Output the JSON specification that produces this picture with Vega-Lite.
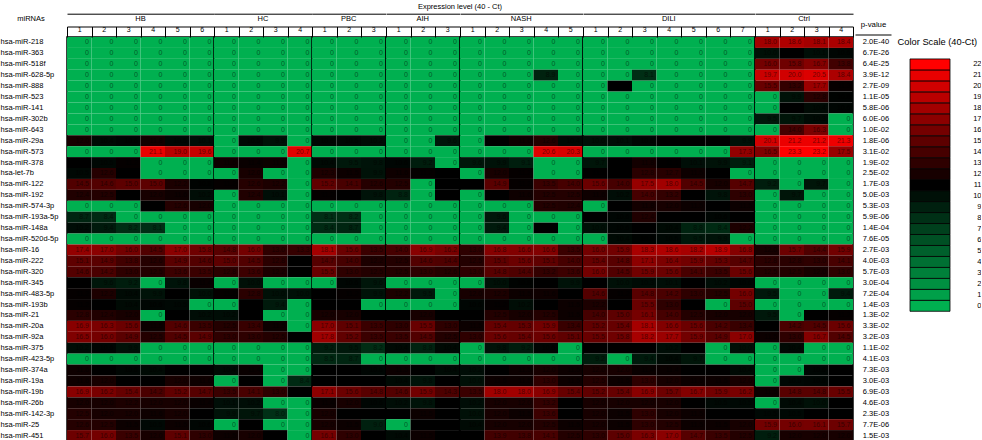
{
"$schema": "https://vega.github.io/schema/vega-lite/v6.json",
"background": "white",
"padding": {"left": 0, "top": 2, "right": 0, "bottom": 0},
"spacing": 0,
"config": {"font": "Liberation Sans", "view": {"stroke": null}, "axis": {"labelColor": "#000", "titleColor": "#000", "grid": false}},
"datasets": {
"pv": [
{"m":"hsa-miR-218","p":"2.0E-40"},{"m":"hsa-miR-363","p":"6.7E-26"},{"m":"hsa-miR-518f","p":"6.4E-25"},{"m":"hsa-miR-628-5p","p":"3.9E-12"},{"m":"hsa-miR-888","p":"2.7E-09"},{"m":"hsa-miR-523","p":"1.1E-05"},{"m":"hsa-miR-141","p":"5.8E-06"},{"m":"hsa-miR-302b","p":"6.0E-06"},{"m":"hsa-miR-643","p":"1.0E-02"},{"m":"hsa-miR-29a","p":"1.8E-06"},{"m":"hsa-miR-573","p":"3.1E-02"},{"m":"hsa-miR-378","p":"1.9E-02"},{"m":"hsa-let-7b","p":"2.5E-02"},{"m":"hsa-miR-122","p":"1.7E-03"},{"m":"hsa-miR-192","p":"5.0E-03"},{"m":"hsa-miR-574-3p","p":"5.3E-03"},{"m":"hsa-miR-193a-5p","p":"5.9E-06"},{"m":"hsa-miR-148a","p":"1.4E-04"},{"m":"hsa-miR-520d-5p","p":"7.6E-05"},{"m":"hsa-miR-16","p":"2.7E-03"},{"m":"hsa-miR-222","p":"4.0E-03"},{"m":"hsa-miR-320","p":"5.7E-03"},{"m":"hsa-miR-345","p":"3.0E-04"},{"m":"hsa-miR-483-5p","p":"7.2E-04"},{"m":"hsa-miR-193b","p":"1.4E-03"},{"m":"hsa-miR-21","p":"1.3E-02"},{"m":"hsa-miR-20a","p":"3.3E-02"},{"m":"hsa-miR-92a","p":"3.2E-03"},{"m":"hsa-miR-375","p":"1.1E-02"},{"m":"hsa-miR-423-5p","p":"4.1E-03"},{"m":"hsa-miR-374a","p":"7.3E-03"},{"m":"hsa-miR-19a","p":"3.0E-03"},{"m":"hsa-miR-19b","p":"6.9E-03"},{"m":"hsa-miR-26b","p":"4.6E-03"},{"m":"hsa-miR-142-3p","p":"2.3E-03"},{"m":"hsa-miR-25","p":"7.7E-06"},{"m":"hsa-miR-451","p":"1.5E-03"}
],
"cs": [{"s":0},{"s":1},{"s":2},{"s":3},{"s":4},{"s":5},{"s":6},{"s":7},{"s":8},{"s":9},{"s":10},{"s":11},{"s":12},{"s":13},{"s":14},{"s":15},{"s":16},{"s":17},{"s":18},{"s":19},{"s":20},{"s":21},{"s":22}],
"cells": [
{"m":"hsa-miR-218","g":"HB","c":1,"v":0},{"m":"hsa-miR-218","g":"HB","c":2,"v":0},{"m":"hsa-miR-218","g":"HB","c":3,"v":0},{"m":"hsa-miR-218","g":"HB","c":4,"v":0},{"m":"hsa-miR-218","g":"HB","c":5,"v":0},{"m":"hsa-miR-218","g":"HB","c":6,"v":0},
{"m":"hsa-miR-218","g":"HC","c":1,"v":0},{"m":"hsa-miR-218","g":"HC","c":2,"v":0},{"m":"hsa-miR-218","g":"HC","c":3,"v":0},{"m":"hsa-miR-218","g":"HC","c":4,"v":0},
{"m":"hsa-miR-218","g":"PBC","c":1,"v":0},{"m":"hsa-miR-218","g":"PBC","c":2,"v":0},{"m":"hsa-miR-218","g":"PBC","c":3,"v":0},
{"m":"hsa-miR-218","g":"AIH","c":1,"v":0},{"m":"hsa-miR-218","g":"AIH","c":2,"v":0},{"m":"hsa-miR-218","g":"AIH","c":3,"v":0},
{"m":"hsa-miR-218","g":"NASH","c":1,"v":0},{"m":"hsa-miR-218","g":"NASH","c":2,"v":0},{"m":"hsa-miR-218","g":"NASH","c":3,"v":0},{"m":"hsa-miR-218","g":"NASH","c":4,"v":0},{"m":"hsa-miR-218","g":"NASH","c":5,"v":0},
{"m":"hsa-miR-218","g":"DILI","c":1,"v":0},{"m":"hsa-miR-218","g":"DILI","c":2,"v":0},{"m":"hsa-miR-218","g":"DILI","c":3,"v":0},{"m":"hsa-miR-218","g":"DILI","c":4,"v":0},{"m":"hsa-miR-218","g":"DILI","c":5,"v":0},{"m":"hsa-miR-218","g":"DILI","c":6,"v":0},{"m":"hsa-miR-218","g":"DILI","c":7,"v":0},
{"m":"hsa-miR-218","g":"Ctrl","c":1,"v":18.0},{"m":"hsa-miR-218","g":"Ctrl","c":2,"v":18.6},{"m":"hsa-miR-218","g":"Ctrl","c":3,"v":18.1},{"m":"hsa-miR-218","g":"Ctrl","c":4,"v":18.4},
{"m":"hsa-miR-363","g":"HB","c":1,"v":0},{"m":"hsa-miR-363","g":"HB","c":2,"v":0},{"m":"hsa-miR-363","g":"HB","c":3,"v":0},{"m":"hsa-miR-363","g":"HB","c":4,"v":0},{"m":"hsa-miR-363","g":"HB","c":5,"v":0},{"m":"hsa-miR-363","g":"HB","c":6,"v":0},
{"m":"hsa-miR-363","g":"HC","c":1,"v":0},{"m":"hsa-miR-363","g":"HC","c":2,"v":0},{"m":"hsa-miR-363","g":"HC","c":3,"v":0},{"m":"hsa-miR-363","g":"HC","c":4,"v":0},
{"m":"hsa-miR-363","g":"PBC","c":1,"v":0},{"m":"hsa-miR-363","g":"PBC","c":2,"v":0},{"m":"hsa-miR-363","g":"PBC","c":3,"v":0},
{"m":"hsa-miR-363","g":"AIH","c":1,"v":0},{"m":"hsa-miR-363","g":"AIH","c":2,"v":0},{"m":"hsa-miR-363","g":"AIH","c":3,"v":0},
{"m":"hsa-miR-363","g":"NASH","c":1,"v":0},{"m":"hsa-miR-363","g":"NASH","c":2,"v":0},{"m":"hsa-miR-363","g":"NASH","c":3,"v":0},{"m":"hsa-miR-363","g":"NASH","c":4,"v":0},{"m":"hsa-miR-363","g":"NASH","c":5,"v":0},
{"m":"hsa-miR-363","g":"DILI","c":1,"v":0},{"m":"hsa-miR-363","g":"DILI","c":2,"v":0},{"m":"hsa-miR-363","g":"DILI","c":3,"v":0},{"m":"hsa-miR-363","g":"DILI","c":4,"v":0},{"m":"hsa-miR-363","g":"DILI","c":5,"v":0},{"m":"hsa-miR-363","g":"DILI","c":6,"v":0},{"m":"hsa-miR-363","g":"DILI","c":7,"v":0},
{"m":"hsa-miR-363","g":"Ctrl","c":1,"v":10.0},{"m":"hsa-miR-363","g":"Ctrl","c":2,"v":11.0},{"m":"hsa-miR-363","g":"Ctrl","c":3,"v":10.1},{"m":"hsa-miR-363","g":"Ctrl","c":4,"v":10.6},
{"m":"hsa-miR-518f","g":"HB","c":1,"v":0},{"m":"hsa-miR-518f","g":"HB","c":2,"v":0},{"m":"hsa-miR-518f","g":"HB","c":3,"v":0},{"m":"hsa-miR-518f","g":"HB","c":4,"v":0},{"m":"hsa-miR-518f","g":"HB","c":5,"v":0},{"m":"hsa-miR-518f","g":"HB","c":6,"v":0},
{"m":"hsa-miR-518f","g":"HC","c":1,"v":0},{"m":"hsa-miR-518f","g":"HC","c":2,"v":0},{"m":"hsa-miR-518f","g":"HC","c":3,"v":0},{"m":"hsa-miR-518f","g":"HC","c":4,"v":0},
{"m":"hsa-miR-518f","g":"PBC","c":1,"v":0},{"m":"hsa-miR-518f","g":"PBC","c":2,"v":0},{"m":"hsa-miR-518f","g":"PBC","c":3,"v":0},
{"m":"hsa-miR-518f","g":"AIH","c":1,"v":0},{"m":"hsa-miR-518f","g":"AIH","c":2,"v":0},{"m":"hsa-miR-518f","g":"AIH","c":3,"v":0},
{"m":"hsa-miR-518f","g":"NASH","c":1,"v":0},{"m":"hsa-miR-518f","g":"NASH","c":2,"v":0},{"m":"hsa-miR-518f","g":"NASH","c":3,"v":0},{"m":"hsa-miR-518f","g":"NASH","c":4,"v":0},{"m":"hsa-miR-518f","g":"NASH","c":5,"v":0},
{"m":"hsa-miR-518f","g":"DILI","c":1,"v":0},{"m":"hsa-miR-518f","g":"DILI","c":2,"v":0},{"m":"hsa-miR-518f","g":"DILI","c":3,"v":0},{"m":"hsa-miR-518f","g":"DILI","c":4,"v":0},{"m":"hsa-miR-518f","g":"DILI","c":5,"v":0},{"m":"hsa-miR-518f","g":"DILI","c":6,"v":0},{"m":"hsa-miR-518f","g":"DILI","c":7,"v":0},
{"m":"hsa-miR-518f","g":"Ctrl","c":1,"v":16.0},{"m":"hsa-miR-518f","g":"Ctrl","c":2,"v":15.8},{"m":"hsa-miR-518f","g":"Ctrl","c":3,"v":16.7},{"m":"hsa-miR-518f","g":"Ctrl","c":4,"v":13.8},
{"m":"hsa-miR-628-5p","g":"HB","c":1,"v":0},{"m":"hsa-miR-628-5p","g":"HB","c":2,"v":0},{"m":"hsa-miR-628-5p","g":"HB","c":3,"v":0},{"m":"hsa-miR-628-5p","g":"HB","c":4,"v":0},{"m":"hsa-miR-628-5p","g":"HB","c":5,"v":0},{"m":"hsa-miR-628-5p","g":"HB","c":6,"v":0},
{"m":"hsa-miR-628-5p","g":"HC","c":1,"v":0},{"m":"hsa-miR-628-5p","g":"HC","c":2,"v":0},{"m":"hsa-miR-628-5p","g":"HC","c":3,"v":0},{"m":"hsa-miR-628-5p","g":"HC","c":4,"v":0},
{"m":"hsa-miR-628-5p","g":"PBC","c":1,"v":0},{"m":"hsa-miR-628-5p","g":"PBC","c":2,"v":0},{"m":"hsa-miR-628-5p","g":"PBC","c":3,"v":0},
{"m":"hsa-miR-628-5p","g":"AIH","c":1,"v":0},{"m":"hsa-miR-628-5p","g":"AIH","c":2,"v":0},{"m":"hsa-miR-628-5p","g":"AIH","c":3,"v":0},
{"m":"hsa-miR-628-5p","g":"NASH","c":1,"v":0},{"m":"hsa-miR-628-5p","g":"NASH","c":2,"v":0},{"m":"hsa-miR-628-5p","g":"NASH","c":3,"v":0},{"m":"hsa-miR-628-5p","g":"NASH","c":4,"v":8.9},{"m":"hsa-miR-628-5p","g":"NASH","c":5,"v":0},
{"m":"hsa-miR-628-5p","g":"DILI","c":1,"v":0},{"m":"hsa-miR-628-5p","g":"DILI","c":2,"v":0},{"m":"hsa-miR-628-5p","g":"DILI","c":3,"v":8.1},{"m":"hsa-miR-628-5p","g":"DILI","c":4,"v":0},{"m":"hsa-miR-628-5p","g":"DILI","c":5,"v":0},{"m":"hsa-miR-628-5p","g":"DILI","c":6,"v":0},{"m":"hsa-miR-628-5p","g":"DILI","c":7,"v":0},
{"m":"hsa-miR-628-5p","g":"Ctrl","c":1,"v":19.7},{"m":"hsa-miR-628-5p","g":"Ctrl","c":2,"v":20.0},{"m":"hsa-miR-628-5p","g":"Ctrl","c":3,"v":20.5},{"m":"hsa-miR-628-5p","g":"Ctrl","c":4,"v":18.4},
{"m":"hsa-miR-888","g":"HB","c":1,"v":0},{"m":"hsa-miR-888","g":"HB","c":2,"v":0},{"m":"hsa-miR-888","g":"HB","c":3,"v":0},{"m":"hsa-miR-888","g":"HB","c":4,"v":0},{"m":"hsa-miR-888","g":"HB","c":5,"v":0},{"m":"hsa-miR-888","g":"HB","c":6,"v":0},
{"m":"hsa-miR-888","g":"HC","c":1,"v":0},{"m":"hsa-miR-888","g":"HC","c":2,"v":0},{"m":"hsa-miR-888","g":"HC","c":3,"v":0},{"m":"hsa-miR-888","g":"HC","c":4,"v":0},
{"m":"hsa-miR-888","g":"PBC","c":1,"v":0},{"m":"hsa-miR-888","g":"PBC","c":2,"v":0},{"m":"hsa-miR-888","g":"PBC","c":3,"v":0},
{"m":"hsa-miR-888","g":"AIH","c":1,"v":0},{"m":"hsa-miR-888","g":"AIH","c":2,"v":0},{"m":"hsa-miR-888","g":"AIH","c":3,"v":0},
{"m":"hsa-miR-888","g":"NASH","c":1,"v":0},{"m":"hsa-miR-888","g":"NASH","c":2,"v":0},{"m":"hsa-miR-888","g":"NASH","c":3,"v":0},{"m":"hsa-miR-888","g":"NASH","c":4,"v":0},{"m":"hsa-miR-888","g":"NASH","c":5,"v":0},
{"m":"hsa-miR-888","g":"DILI","c":1,"v":0},{"m":"hsa-miR-888","g":"DILI","c":2,"v":11.0},{"m":"hsa-miR-888","g":"DILI","c":3,"v":0},{"m":"hsa-miR-888","g":"DILI","c":4,"v":0},{"m":"hsa-miR-888","g":"DILI","c":5,"v":0},{"m":"hsa-miR-888","g":"DILI","c":6,"v":0},{"m":"hsa-miR-888","g":"DILI","c":7,"v":0},
{"m":"hsa-miR-888","g":"Ctrl","c":1,"v":15.5},{"m":"hsa-miR-888","g":"Ctrl","c":2,"v":13.2},{"m":"hsa-miR-888","g":"Ctrl","c":3,"v":17.7},{"m":"hsa-miR-888","g":"Ctrl","c":4,"v":11.3},
{"m":"hsa-miR-523","g":"HB","c":1,"v":0},{"m":"hsa-miR-523","g":"HB","c":2,"v":0},{"m":"hsa-miR-523","g":"HB","c":3,"v":0},{"m":"hsa-miR-523","g":"HB","c":4,"v":0},{"m":"hsa-miR-523","g":"HB","c":5,"v":0},{"m":"hsa-miR-523","g":"HB","c":6,"v":0},
{"m":"hsa-miR-523","g":"HC","c":1,"v":0},{"m":"hsa-miR-523","g":"HC","c":2,"v":0},{"m":"hsa-miR-523","g":"HC","c":3,"v":0},{"m":"hsa-miR-523","g":"HC","c":4,"v":0},
{"m":"hsa-miR-523","g":"PBC","c":1,"v":0},{"m":"hsa-miR-523","g":"PBC","c":2,"v":0},{"m":"hsa-miR-523","g":"PBC","c":3,"v":0},
{"m":"hsa-miR-523","g":"AIH","c":1,"v":0},{"m":"hsa-miR-523","g":"AIH","c":2,"v":0},{"m":"hsa-miR-523","g":"AIH","c":3,"v":0},
{"m":"hsa-miR-523","g":"NASH","c":1,"v":0},{"m":"hsa-miR-523","g":"NASH","c":2,"v":0},{"m":"hsa-miR-523","g":"NASH","c":3,"v":0},{"m":"hsa-miR-523","g":"NASH","c":4,"v":0},{"m":"hsa-miR-523","g":"NASH","c":5,"v":0},
{"m":"hsa-miR-523","g":"DILI","c":1,"v":0},{"m":"hsa-miR-523","g":"DILI","c":2,"v":0},{"m":"hsa-miR-523","g":"DILI","c":3,"v":0},{"m":"hsa-miR-523","g":"DILI","c":4,"v":0},{"m":"hsa-miR-523","g":"DILI","c":5,"v":0},{"m":"hsa-miR-523","g":"DILI","c":6,"v":0},{"m":"hsa-miR-523","g":"DILI","c":7,"v":0},
{"m":"hsa-miR-523","g":"Ctrl","c":1,"v":0},{"m":"hsa-miR-523","g":"Ctrl","c":2,"v":9.9},{"m":"hsa-miR-523","g":"Ctrl","c":3,"v":12.8},{"m":"hsa-miR-523","g":"Ctrl","c":4,"v":10.8},
{"m":"hsa-miR-141","g":"HB","c":1,"v":0},{"m":"hsa-miR-141","g":"HB","c":2,"v":0},{"m":"hsa-miR-141","g":"HB","c":3,"v":0},{"m":"hsa-miR-141","g":"HB","c":4,"v":0},{"m":"hsa-miR-141","g":"HB","c":5,"v":0},{"m":"hsa-miR-141","g":"HB","c":6,"v":0},
{"m":"hsa-miR-141","g":"HC","c":1,"v":0},{"m":"hsa-miR-141","g":"HC","c":2,"v":0},{"m":"hsa-miR-141","g":"HC","c":3,"v":0},{"m":"hsa-miR-141","g":"HC","c":4,"v":0},
{"m":"hsa-miR-141","g":"PBC","c":1,"v":0},{"m":"hsa-miR-141","g":"PBC","c":2,"v":0},{"m":"hsa-miR-141","g":"PBC","c":3,"v":0},
{"m":"hsa-miR-141","g":"AIH","c":1,"v":0},{"m":"hsa-miR-141","g":"AIH","c":2,"v":0},{"m":"hsa-miR-141","g":"AIH","c":3,"v":0},
{"m":"hsa-miR-141","g":"NASH","c":1,"v":0},{"m":"hsa-miR-141","g":"NASH","c":2,"v":0},{"m":"hsa-miR-141","g":"NASH","c":3,"v":0},{"m":"hsa-miR-141","g":"NASH","c":4,"v":0},{"m":"hsa-miR-141","g":"NASH","c":5,"v":0},
{"m":"hsa-miR-141","g":"DILI","c":1,"v":0},{"m":"hsa-miR-141","g":"DILI","c":2,"v":0},{"m":"hsa-miR-141","g":"DILI","c":3,"v":0},{"m":"hsa-miR-141","g":"DILI","c":4,"v":0},{"m":"hsa-miR-141","g":"DILI","c":5,"v":0},{"m":"hsa-miR-141","g":"DILI","c":6,"v":0},{"m":"hsa-miR-141","g":"DILI","c":7,"v":0},
{"m":"hsa-miR-141","g":"Ctrl","c":1,"v":0},{"m":"hsa-miR-141","g":"Ctrl","c":2,"v":11.0},{"m":"hsa-miR-141","g":"Ctrl","c":3,"v":10.4},{"m":"hsa-miR-141","g":"Ctrl","c":4,"v":10.6},
{"m":"hsa-miR-302b","g":"HB","c":1,"v":0},{"m":"hsa-miR-302b","g":"HB","c":2,"v":0},{"m":"hsa-miR-302b","g":"HB","c":3,"v":0},{"m":"hsa-miR-302b","g":"HB","c":4,"v":0},{"m":"hsa-miR-302b","g":"HB","c":5,"v":0},{"m":"hsa-miR-302b","g":"HB","c":6,"v":0},
{"m":"hsa-miR-302b","g":"HC","c":1,"v":0},{"m":"hsa-miR-302b","g":"HC","c":2,"v":0},{"m":"hsa-miR-302b","g":"HC","c":3,"v":0},{"m":"hsa-miR-302b","g":"HC","c":4,"v":0},
{"m":"hsa-miR-302b","g":"PBC","c":1,"v":0},{"m":"hsa-miR-302b","g":"PBC","c":2,"v":0},{"m":"hsa-miR-302b","g":"PBC","c":3,"v":0},
{"m":"hsa-miR-302b","g":"AIH","c":1,"v":0},{"m":"hsa-miR-302b","g":"AIH","c":2,"v":0},{"m":"hsa-miR-302b","g":"AIH","c":3,"v":0},
{"m":"hsa-miR-302b","g":"NASH","c":1,"v":0},{"m":"hsa-miR-302b","g":"NASH","c":2,"v":0},{"m":"hsa-miR-302b","g":"NASH","c":3,"v":0},{"m":"hsa-miR-302b","g":"NASH","c":4,"v":0},{"m":"hsa-miR-302b","g":"NASH","c":5,"v":0},
{"m":"hsa-miR-302b","g":"DILI","c":1,"v":0},{"m":"hsa-miR-302b","g":"DILI","c":2,"v":0},{"m":"hsa-miR-302b","g":"DILI","c":3,"v":0},{"m":"hsa-miR-302b","g":"DILI","c":4,"v":0},{"m":"hsa-miR-302b","g":"DILI","c":5,"v":0},{"m":"hsa-miR-302b","g":"DILI","c":6,"v":0},{"m":"hsa-miR-302b","g":"DILI","c":7,"v":0},
{"m":"hsa-miR-302b","g":"Ctrl","c":1,"v":9.5},{"m":"hsa-miR-302b","g":"Ctrl","c":2,"v":9.7},{"m":"hsa-miR-302b","g":"Ctrl","c":3,"v":10.3},{"m":"hsa-miR-302b","g":"Ctrl","c":4,"v":0},
{"m":"hsa-miR-643","g":"HB","c":1,"v":0},{"m":"hsa-miR-643","g":"HB","c":2,"v":0},{"m":"hsa-miR-643","g":"HB","c":3,"v":0},{"m":"hsa-miR-643","g":"HB","c":4,"v":0},{"m":"hsa-miR-643","g":"HB","c":5,"v":0},{"m":"hsa-miR-643","g":"HB","c":6,"v":0},
{"m":"hsa-miR-643","g":"HC","c":1,"v":0},{"m":"hsa-miR-643","g":"HC","c":2,"v":0},{"m":"hsa-miR-643","g":"HC","c":3,"v":0},{"m":"hsa-miR-643","g":"HC","c":4,"v":0},
{"m":"hsa-miR-643","g":"PBC","c":1,"v":0},{"m":"hsa-miR-643","g":"PBC","c":2,"v":0},{"m":"hsa-miR-643","g":"PBC","c":3,"v":0},
{"m":"hsa-miR-643","g":"AIH","c":1,"v":0},{"m":"hsa-miR-643","g":"AIH","c":2,"v":0},{"m":"hsa-miR-643","g":"AIH","c":3,"v":0},
{"m":"hsa-miR-643","g":"NASH","c":1,"v":0},{"m":"hsa-miR-643","g":"NASH","c":2,"v":0},{"m":"hsa-miR-643","g":"NASH","c":3,"v":0},{"m":"hsa-miR-643","g":"NASH","c":4,"v":0},{"m":"hsa-miR-643","g":"NASH","c":5,"v":0},
{"m":"hsa-miR-643","g":"DILI","c":1,"v":0},{"m":"hsa-miR-643","g":"DILI","c":2,"v":0},{"m":"hsa-miR-643","g":"DILI","c":3,"v":0},{"m":"hsa-miR-643","g":"DILI","c":4,"v":0},{"m":"hsa-miR-643","g":"DILI","c":5,"v":0},{"m":"hsa-miR-643","g":"DILI","c":6,"v":0},{"m":"hsa-miR-643","g":"DILI","c":7,"v":0},
{"m":"hsa-miR-643","g":"Ctrl","c":1,"v":0},{"m":"hsa-miR-643","g":"Ctrl","c":2,"v":14.0},{"m":"hsa-miR-643","g":"Ctrl","c":3,"v":16.3},{"m":"hsa-miR-643","g":"Ctrl","c":4,"v":0},
{"m":"hsa-miR-29a","g":"HB","c":1,"v":12.0},{"m":"hsa-miR-29a","g":"HB","c":2,"v":10.4},{"m":"hsa-miR-29a","g":"HB","c":3,"v":10.6},{"m":"hsa-miR-29a","g":"HB","c":4,"v":11.8},{"m":"hsa-miR-29a","g":"HB","c":5,"v":10.5},{"m":"hsa-miR-29a","g":"HB","c":6,"v":10.1},
{"m":"hsa-miR-29a","g":"HC","c":1,"v":0},{"m":"hsa-miR-29a","g":"HC","c":2,"v":10.5},{"m":"hsa-miR-29a","g":"HC","c":3,"v":9.9},{"m":"hsa-miR-29a","g":"HC","c":4,"v":0},
{"m":"hsa-miR-29a","g":"PBC","c":1,"v":10.6},{"m":"hsa-miR-29a","g":"PBC","c":2,"v":10.5},{"m":"hsa-miR-29a","g":"PBC","c":3,"v":10.2},
{"m":"hsa-miR-29a","g":"AIH","c":1,"v":0},{"m":"hsa-miR-29a","g":"AIH","c":2,"v":0},{"m":"hsa-miR-29a","g":"AIH","c":3,"v":9.6},
{"m":"hsa-miR-29a","g":"NASH","c":1,"v":0},{"m":"hsa-miR-29a","g":"NASH","c":2,"v":11.0},{"m":"hsa-miR-29a","g":"NASH","c":3,"v":11.6},{"m":"hsa-miR-29a","g":"NASH","c":4,"v":12.6},{"m":"hsa-miR-29a","g":"NASH","c":5,"v":10.4},
{"m":"hsa-miR-29a","g":"DILI","c":1,"v":10.0},{"m":"hsa-miR-29a","g":"DILI","c":2,"v":10.1},{"m":"hsa-miR-29a","g":"DILI","c":3,"v":10.6},{"m":"hsa-miR-29a","g":"DILI","c":4,"v":11.0},{"m":"hsa-miR-29a","g":"DILI","c":5,"v":11.0},{"m":"hsa-miR-29a","g":"DILI","c":6,"v":11.0},{"m":"hsa-miR-29a","g":"DILI","c":7,"v":9.9},
{"m":"hsa-miR-29a","g":"Ctrl","c":1,"v":20.1},{"m":"hsa-miR-29a","g":"Ctrl","c":2,"v":21.2},{"m":"hsa-miR-29a","g":"Ctrl","c":3,"v":21.2},{"m":"hsa-miR-29a","g":"Ctrl","c":4,"v":21.3},
{"m":"hsa-miR-573","g":"HB","c":1,"v":0},{"m":"hsa-miR-573","g":"HB","c":2,"v":0},{"m":"hsa-miR-573","g":"HB","c":3,"v":0},{"m":"hsa-miR-573","g":"HB","c":4,"v":21.1},{"m":"hsa-miR-573","g":"HB","c":5,"v":19.0},{"m":"hsa-miR-573","g":"HB","c":6,"v":19.6},
{"m":"hsa-miR-573","g":"HC","c":1,"v":0},{"m":"hsa-miR-573","g":"HC","c":2,"v":0},{"m":"hsa-miR-573","g":"HC","c":3,"v":0},{"m":"hsa-miR-573","g":"HC","c":4,"v":20.7},
{"m":"hsa-miR-573","g":"PBC","c":1,"v":0},{"m":"hsa-miR-573","g":"PBC","c":2,"v":0},{"m":"hsa-miR-573","g":"PBC","c":3,"v":0},
{"m":"hsa-miR-573","g":"AIH","c":1,"v":0},{"m":"hsa-miR-573","g":"AIH","c":2,"v":0},{"m":"hsa-miR-573","g":"AIH","c":3,"v":0},
{"m":"hsa-miR-573","g":"NASH","c":1,"v":0},{"m":"hsa-miR-573","g":"NASH","c":2,"v":0},{"m":"hsa-miR-573","g":"NASH","c":3,"v":0},{"m":"hsa-miR-573","g":"NASH","c":4,"v":20.6},{"m":"hsa-miR-573","g":"NASH","c":5,"v":20.3},
{"m":"hsa-miR-573","g":"DILI","c":1,"v":0},{"m":"hsa-miR-573","g":"DILI","c":2,"v":0},{"m":"hsa-miR-573","g":"DILI","c":3,"v":0},{"m":"hsa-miR-573","g":"DILI","c":4,"v":0},{"m":"hsa-miR-573","g":"DILI","c":5,"v":0},{"m":"hsa-miR-573","g":"DILI","c":6,"v":0},{"m":"hsa-miR-573","g":"DILI","c":7,"v":17.3},
{"m":"hsa-miR-573","g":"Ctrl","c":1,"v":16.5},{"m":"hsa-miR-573","g":"Ctrl","c":2,"v":23.3},{"m":"hsa-miR-573","g":"Ctrl","c":3,"v":23.2},{"m":"hsa-miR-573","g":"Ctrl","c":4,"v":17.5},
{"m":"hsa-miR-378","g":"HB","c":1,"v":11.0},{"m":"hsa-miR-378","g":"HB","c":2,"v":10.5},{"m":"hsa-miR-378","g":"HB","c":3,"v":11.2},{"m":"hsa-miR-378","g":"HB","c":4,"v":0},{"m":"hsa-miR-378","g":"HB","c":5,"v":0},{"m":"hsa-miR-378","g":"HB","c":6,"v":0},
{"m":"hsa-miR-378","g":"HC","c":1,"v":11.6},{"m":"hsa-miR-378","g":"HC","c":2,"v":11.4},{"m":"hsa-miR-378","g":"HC","c":3,"v":11.5},{"m":"hsa-miR-378","g":"HC","c":4,"v":0},
{"m":"hsa-miR-378","g":"PBC","c":1,"v":10.4},{"m":"hsa-miR-378","g":"PBC","c":2,"v":9.5},{"m":"hsa-miR-378","g":"PBC","c":3,"v":9.8},
{"m":"hsa-miR-378","g":"AIH","c":1,"v":10.6},{"m":"hsa-miR-378","g":"AIH","c":2,"v":9.2},{"m":"hsa-miR-378","g":"AIH","c":3,"v":0},
{"m":"hsa-miR-378","g":"NASH","c":1,"v":9.6},{"m":"hsa-miR-378","g":"NASH","c":2,"v":9.9},{"m":"hsa-miR-378","g":"NASH","c":3,"v":9.1},{"m":"hsa-miR-378","g":"NASH","c":4,"v":0},{"m":"hsa-miR-378","g":"NASH","c":5,"v":0},
{"m":"hsa-miR-378","g":"DILI","c":1,"v":9.7},{"m":"hsa-miR-378","g":"DILI","c":2,"v":11.0},{"m":"hsa-miR-378","g":"DILI","c":3,"v":11.8},{"m":"hsa-miR-378","g":"DILI","c":4,"v":11.1},{"m":"hsa-miR-378","g":"DILI","c":5,"v":10.1},{"m":"hsa-miR-378","g":"DILI","c":6,"v":9.9},{"m":"hsa-miR-378","g":"DILI","c":7,"v":9.1},
{"m":"hsa-miR-378","g":"Ctrl","c":1,"v":0},{"m":"hsa-miR-378","g":"Ctrl","c":2,"v":0},{"m":"hsa-miR-378","g":"Ctrl","c":3,"v":0},{"m":"hsa-miR-378","g":"Ctrl","c":4,"v":0},
{"m":"hsa-let-7b","g":"HB","c":1,"v":10.5},{"m":"hsa-let-7b","g":"HB","c":2,"v":12.6},{"m":"hsa-let-7b","g":"HB","c":3,"v":11.0},{"m":"hsa-let-7b","g":"HB","c":4,"v":0},{"m":"hsa-let-7b","g":"HB","c":5,"v":0},{"m":"hsa-let-7b","g":"HB","c":6,"v":0},
{"m":"hsa-let-7b","g":"HC","c":1,"v":0},{"m":"hsa-let-7b","g":"HC","c":2,"v":12.0},{"m":"hsa-let-7b","g":"HC","c":3,"v":0},{"m":"hsa-let-7b","g":"HC","c":4,"v":0},
{"m":"hsa-let-7b","g":"PBC","c":1,"v":12.3},{"m":"hsa-let-7b","g":"PBC","c":2,"v":11.5},{"m":"hsa-let-7b","g":"PBC","c":3,"v":9.9},
{"m":"hsa-let-7b","g":"AIH","c":1,"v":11.6},{"m":"hsa-let-7b","g":"AIH","c":2,"v":11.2},{"m":"hsa-let-7b","g":"AIH","c":3,"v":11.0},
{"m":"hsa-let-7b","g":"NASH","c":1,"v":0},{"m":"hsa-let-7b","g":"NASH","c":2,"v":12.0},{"m":"hsa-let-7b","g":"NASH","c":3,"v":11.2},{"m":"hsa-let-7b","g":"NASH","c":4,"v":0},{"m":"hsa-let-7b","g":"NASH","c":5,"v":0},
{"m":"hsa-let-7b","g":"DILI","c":1,"v":11.1},{"m":"hsa-let-7b","g":"DILI","c":2,"v":11.0},{"m":"hsa-let-7b","g":"DILI","c":3,"v":12.8},{"m":"hsa-let-7b","g":"DILI","c":4,"v":12.7},{"m":"hsa-let-7b","g":"DILI","c":5,"v":11.5},{"m":"hsa-let-7b","g":"DILI","c":6,"v":11.0},{"m":"hsa-let-7b","g":"DILI","c":7,"v":0},
{"m":"hsa-let-7b","g":"Ctrl","c":1,"v":0},{"m":"hsa-let-7b","g":"Ctrl","c":2,"v":0},{"m":"hsa-let-7b","g":"Ctrl","c":3,"v":0},{"m":"hsa-let-7b","g":"Ctrl","c":4,"v":0},
{"m":"hsa-miR-122","g":"HB","c":1,"v":14.5},{"m":"hsa-miR-122","g":"HB","c":2,"v":14.6},{"m":"hsa-miR-122","g":"HB","c":3,"v":15.0},{"m":"hsa-miR-122","g":"HB","c":4,"v":15.0},{"m":"hsa-miR-122","g":"HB","c":5,"v":12.2},{"m":"hsa-miR-122","g":"HB","c":6,"v":10.8},
{"m":"hsa-miR-122","g":"HC","c":1,"v":11.2},{"m":"hsa-miR-122","g":"HC","c":2,"v":12.6},{"m":"hsa-miR-122","g":"HC","c":3,"v":12.2},{"m":"hsa-miR-122","g":"HC","c":4,"v":0},
{"m":"hsa-miR-122","g":"PBC","c":1,"v":15.2},{"m":"hsa-miR-122","g":"PBC","c":2,"v":14.1},{"m":"hsa-miR-122","g":"PBC","c":3,"v":12.6},
{"m":"hsa-miR-122","g":"AIH","c":1,"v":12.5},{"m":"hsa-miR-122","g":"AIH","c":2,"v":0},{"m":"hsa-miR-122","g":"AIH","c":3,"v":11.0},
{"m":"hsa-miR-122","g":"NASH","c":1,"v":11.0},{"m":"hsa-miR-122","g":"NASH","c":2,"v":14.9},{"m":"hsa-miR-122","g":"NASH","c":3,"v":11.2},{"m":"hsa-miR-122","g":"NASH","c":4,"v":13.5},{"m":"hsa-miR-122","g":"NASH","c":5,"v":14.0},
{"m":"hsa-miR-122","g":"DILI","c":1,"v":15.6},{"m":"hsa-miR-122","g":"DILI","c":2,"v":14.0},{"m":"hsa-miR-122","g":"DILI","c":3,"v":17.5},{"m":"hsa-miR-122","g":"DILI","c":4,"v":18.0},{"m":"hsa-miR-122","g":"DILI","c":5,"v":14.5},{"m":"hsa-miR-122","g":"DILI","c":6,"v":12.0},{"m":"hsa-miR-122","g":"DILI","c":7,"v":14.7},
{"m":"hsa-miR-122","g":"Ctrl","c":1,"v":9.2},{"m":"hsa-miR-122","g":"Ctrl","c":2,"v":0},{"m":"hsa-miR-122","g":"Ctrl","c":3,"v":9.7},{"m":"hsa-miR-122","g":"Ctrl","c":4,"v":0},
{"m":"hsa-miR-192","g":"HB","c":1,"v":12.4},{"m":"hsa-miR-192","g":"HB","c":2,"v":12.5},{"m":"hsa-miR-192","g":"HB","c":3,"v":11.0},{"m":"hsa-miR-192","g":"HB","c":4,"v":12.0},{"m":"hsa-miR-192","g":"HB","c":5,"v":11.6},{"m":"hsa-miR-192","g":"HB","c":6,"v":10.2},
{"m":"hsa-miR-192","g":"HC","c":1,"v":0},{"m":"hsa-miR-192","g":"HC","c":2,"v":12.4},{"m":"hsa-miR-192","g":"HC","c":3,"v":10.1},{"m":"hsa-miR-192","g":"HC","c":4,"v":0},
{"m":"hsa-miR-192","g":"PBC","c":1,"v":11.2},{"m":"hsa-miR-192","g":"PBC","c":2,"v":11.0},{"m":"hsa-miR-192","g":"PBC","c":3,"v":9.8},
{"m":"hsa-miR-192","g":"AIH","c":1,"v":8.8},{"m":"hsa-miR-192","g":"AIH","c":2,"v":0},{"m":"hsa-miR-192","g":"AIH","c":3,"v":11.0},
{"m":"hsa-miR-192","g":"NASH","c":1,"v":0},{"m":"hsa-miR-192","g":"NASH","c":2,"v":11.0},{"m":"hsa-miR-192","g":"NASH","c":3,"v":11.6},{"m":"hsa-miR-192","g":"NASH","c":4,"v":12.5},{"m":"hsa-miR-192","g":"NASH","c":5,"v":12.5},
{"m":"hsa-miR-192","g":"DILI","c":1,"v":11.6},{"m":"hsa-miR-192","g":"DILI","c":2,"v":10.2},{"m":"hsa-miR-192","g":"DILI","c":3,"v":14.0},{"m":"hsa-miR-192","g":"DILI","c":4,"v":13.2},{"m":"hsa-miR-192","g":"DILI","c":5,"v":11.0},{"m":"hsa-miR-192","g":"DILI","c":6,"v":9.8},{"m":"hsa-miR-192","g":"DILI","c":7,"v":13.0},
{"m":"hsa-miR-192","g":"Ctrl","c":1,"v":0},{"m":"hsa-miR-192","g":"Ctrl","c":2,"v":9.7},{"m":"hsa-miR-192","g":"Ctrl","c":3,"v":0},{"m":"hsa-miR-192","g":"Ctrl","c":4,"v":0},
{"m":"hsa-miR-574-3p","g":"HB","c":1,"v":0},{"m":"hsa-miR-574-3p","g":"HB","c":2,"v":0},{"m":"hsa-miR-574-3p","g":"HB","c":3,"v":0},{"m":"hsa-miR-574-3p","g":"HB","c":4,"v":11.0},{"m":"hsa-miR-574-3p","g":"HB","c":5,"v":12.6},{"m":"hsa-miR-574-3p","g":"HB","c":6,"v":12.0},
{"m":"hsa-miR-574-3p","g":"HC","c":1,"v":0},{"m":"hsa-miR-574-3p","g":"HC","c":2,"v":0},{"m":"hsa-miR-574-3p","g":"HC","c":3,"v":0},{"m":"hsa-miR-574-3p","g":"HC","c":4,"v":0},
{"m":"hsa-miR-574-3p","g":"PBC","c":1,"v":0},{"m":"hsa-miR-574-3p","g":"PBC","c":2,"v":0},{"m":"hsa-miR-574-3p","g":"PBC","c":3,"v":0},
{"m":"hsa-miR-574-3p","g":"AIH","c":1,"v":0},{"m":"hsa-miR-574-3p","g":"AIH","c":2,"v":0},{"m":"hsa-miR-574-3p","g":"AIH","c":3,"v":0},
{"m":"hsa-miR-574-3p","g":"NASH","c":1,"v":0},{"m":"hsa-miR-574-3p","g":"NASH","c":2,"v":0},{"m":"hsa-miR-574-3p","g":"NASH","c":3,"v":0},{"m":"hsa-miR-574-3p","g":"NASH","c":4,"v":12.5},{"m":"hsa-miR-574-3p","g":"NASH","c":5,"v":12.4},
{"m":"hsa-miR-574-3p","g":"DILI","c":1,"v":0},{"m":"hsa-miR-574-3p","g":"DILI","c":2,"v":11.0},{"m":"hsa-miR-574-3p","g":"DILI","c":3,"v":11.8},{"m":"hsa-miR-574-3p","g":"DILI","c":4,"v":12.0},{"m":"hsa-miR-574-3p","g":"DILI","c":5,"v":11.5},{"m":"hsa-miR-574-3p","g":"DILI","c":6,"v":11.0},{"m":"hsa-miR-574-3p","g":"DILI","c":7,"v":11.5},
{"m":"hsa-miR-574-3p","g":"Ctrl","c":1,"v":0},{"m":"hsa-miR-574-3p","g":"Ctrl","c":2,"v":0},{"m":"hsa-miR-574-3p","g":"Ctrl","c":3,"v":0},{"m":"hsa-miR-574-3p","g":"Ctrl","c":4,"v":0},
{"m":"hsa-miR-193a-5p","g":"HB","c":1,"v":8.7},{"m":"hsa-miR-193a-5p","g":"HB","c":2,"v":8.4},{"m":"hsa-miR-193a-5p","g":"HB","c":3,"v":0},{"m":"hsa-miR-193a-5p","g":"HB","c":4,"v":0},{"m":"hsa-miR-193a-5p","g":"HB","c":5,"v":0},{"m":"hsa-miR-193a-5p","g":"HB","c":6,"v":0},
{"m":"hsa-miR-193a-5p","g":"HC","c":1,"v":0},{"m":"hsa-miR-193a-5p","g":"HC","c":2,"v":0},{"m":"hsa-miR-193a-5p","g":"HC","c":3,"v":0},{"m":"hsa-miR-193a-5p","g":"HC","c":4,"v":0},
{"m":"hsa-miR-193a-5p","g":"PBC","c":1,"v":8.1},{"m":"hsa-miR-193a-5p","g":"PBC","c":2,"v":8.2},{"m":"hsa-miR-193a-5p","g":"PBC","c":3,"v":0},
{"m":"hsa-miR-193a-5p","g":"AIH","c":1,"v":0},{"m":"hsa-miR-193a-5p","g":"AIH","c":2,"v":0},{"m":"hsa-miR-193a-5p","g":"AIH","c":3,"v":0},
{"m":"hsa-miR-193a-5p","g":"NASH","c":1,"v":0},{"m":"hsa-miR-193a-5p","g":"NASH","c":2,"v":9.6},{"m":"hsa-miR-193a-5p","g":"NASH","c":3,"v":0},{"m":"hsa-miR-193a-5p","g":"NASH","c":4,"v":0},{"m":"hsa-miR-193a-5p","g":"NASH","c":5,"v":0},
{"m":"hsa-miR-193a-5p","g":"DILI","c":1,"v":11.0},{"m":"hsa-miR-193a-5p","g":"DILI","c":2,"v":10.6},{"m":"hsa-miR-193a-5p","g":"DILI","c":3,"v":12.4},{"m":"hsa-miR-193a-5p","g":"DILI","c":4,"v":11.0},{"m":"hsa-miR-193a-5p","g":"DILI","c":5,"v":11.0},{"m":"hsa-miR-193a-5p","g":"DILI","c":6,"v":10.6},{"m":"hsa-miR-193a-5p","g":"DILI","c":7,"v":11.0},
{"m":"hsa-miR-193a-5p","g":"Ctrl","c":1,"v":0},{"m":"hsa-miR-193a-5p","g":"Ctrl","c":2,"v":0},{"m":"hsa-miR-193a-5p","g":"Ctrl","c":3,"v":0},{"m":"hsa-miR-193a-5p","g":"Ctrl","c":4,"v":0},
{"m":"hsa-miR-148a","g":"HB","c":1,"v":10.2},{"m":"hsa-miR-148a","g":"HB","c":2,"v":9.4},{"m":"hsa-miR-148a","g":"HB","c":3,"v":8.2},{"m":"hsa-miR-148a","g":"HB","c":4,"v":8.1},{"m":"hsa-miR-148a","g":"HB","c":5,"v":0},{"m":"hsa-miR-148a","g":"HB","c":6,"v":0},
{"m":"hsa-miR-148a","g":"HC","c":1,"v":0},{"m":"hsa-miR-148a","g":"HC","c":2,"v":0},{"m":"hsa-miR-148a","g":"HC","c":3,"v":0},{"m":"hsa-miR-148a","g":"HC","c":4,"v":0},
{"m":"hsa-miR-148a","g":"PBC","c":1,"v":8.4},{"m":"hsa-miR-148a","g":"PBC","c":2,"v":8.7},{"m":"hsa-miR-148a","g":"PBC","c":3,"v":0},
{"m":"hsa-miR-148a","g":"AIH","c":1,"v":0},{"m":"hsa-miR-148a","g":"AIH","c":2,"v":0},{"m":"hsa-miR-148a","g":"AIH","c":3,"v":0},
{"m":"hsa-miR-148a","g":"NASH","c":1,"v":0},{"m":"hsa-miR-148a","g":"NASH","c":2,"v":9.4},{"m":"hsa-miR-148a","g":"NASH","c":3,"v":0},{"m":"hsa-miR-148a","g":"NASH","c":4,"v":11.0},{"m":"hsa-miR-148a","g":"NASH","c":5,"v":0},
{"m":"hsa-miR-148a","g":"DILI","c":1,"v":10.0},{"m":"hsa-miR-148a","g":"DILI","c":2,"v":10.6},{"m":"hsa-miR-148a","g":"DILI","c":3,"v":11.0},{"m":"hsa-miR-148a","g":"DILI","c":4,"v":10.4},{"m":"hsa-miR-148a","g":"DILI","c":5,"v":8.8},{"m":"hsa-miR-148a","g":"DILI","c":6,"v":8.4},{"m":"hsa-miR-148a","g":"DILI","c":7,"v":12.2},
{"m":"hsa-miR-148a","g":"Ctrl","c":1,"v":0},{"m":"hsa-miR-148a","g":"Ctrl","c":2,"v":0},{"m":"hsa-miR-148a","g":"Ctrl","c":3,"v":0},{"m":"hsa-miR-148a","g":"Ctrl","c":4,"v":0},
{"m":"hsa-miR-520d-5p","g":"HB","c":1,"v":0},{"m":"hsa-miR-520d-5p","g":"HB","c":2,"v":0},{"m":"hsa-miR-520d-5p","g":"HB","c":3,"v":0},{"m":"hsa-miR-520d-5p","g":"HB","c":4,"v":0},{"m":"hsa-miR-520d-5p","g":"HB","c":5,"v":0},{"m":"hsa-miR-520d-5p","g":"HB","c":6,"v":0},
{"m":"hsa-miR-520d-5p","g":"HC","c":1,"v":0},{"m":"hsa-miR-520d-5p","g":"HC","c":2,"v":0},{"m":"hsa-miR-520d-5p","g":"HC","c":3,"v":0},{"m":"hsa-miR-520d-5p","g":"HC","c":4,"v":0},
{"m":"hsa-miR-520d-5p","g":"PBC","c":1,"v":0},{"m":"hsa-miR-520d-5p","g":"PBC","c":2,"v":0},{"m":"hsa-miR-520d-5p","g":"PBC","c":3,"v":0},
{"m":"hsa-miR-520d-5p","g":"AIH","c":1,"v":0},{"m":"hsa-miR-520d-5p","g":"AIH","c":2,"v":0},{"m":"hsa-miR-520d-5p","g":"AIH","c":3,"v":0},
{"m":"hsa-miR-520d-5p","g":"NASH","c":1,"v":0},{"m":"hsa-miR-520d-5p","g":"NASH","c":2,"v":0},{"m":"hsa-miR-520d-5p","g":"NASH","c":3,"v":0},{"m":"hsa-miR-520d-5p","g":"NASH","c":4,"v":0},{"m":"hsa-miR-520d-5p","g":"NASH","c":5,"v":0},
{"m":"hsa-miR-520d-5p","g":"DILI","c":1,"v":0},{"m":"hsa-miR-520d-5p","g":"DILI","c":2,"v":10.4},{"m":"hsa-miR-520d-5p","g":"DILI","c":3,"v":10.8},{"m":"hsa-miR-520d-5p","g":"DILI","c":4,"v":10.5},{"m":"hsa-miR-520d-5p","g":"DILI","c":5,"v":9.5},{"m":"hsa-miR-520d-5p","g":"DILI","c":6,"v":9.9},{"m":"hsa-miR-520d-5p","g":"DILI","c":7,"v":0},
{"m":"hsa-miR-520d-5p","g":"Ctrl","c":1,"v":0},{"m":"hsa-miR-520d-5p","g":"Ctrl","c":2,"v":0},{"m":"hsa-miR-520d-5p","g":"Ctrl","c":3,"v":0},{"m":"hsa-miR-520d-5p","g":"Ctrl","c":4,"v":0},
{"m":"hsa-miR-16","g":"HB","c":1,"v":17.4},{"m":"hsa-miR-16","g":"HB","c":2,"v":17.0},{"m":"hsa-miR-16","g":"HB","c":3,"v":16.0},{"m":"hsa-miR-16","g":"HB","c":4,"v":14.5},{"m":"hsa-miR-16","g":"HB","c":5,"v":17.0},{"m":"hsa-miR-16","g":"HB","c":6,"v":15.8},
{"m":"hsa-miR-16","g":"HC","c":1,"v":14.8},{"m":"hsa-miR-16","g":"HC","c":2,"v":16.0},{"m":"hsa-miR-16","g":"HC","c":3,"v":13.0},{"m":"hsa-miR-16","g":"HC","c":4,"v":13.3},
{"m":"hsa-miR-16","g":"PBC","c":1,"v":18.1},{"m":"hsa-miR-16","g":"PBC","c":2,"v":15.6},{"m":"hsa-miR-16","g":"PBC","c":3,"v":13.5},
{"m":"hsa-miR-16","g":"AIH","c":1,"v":14.0},{"m":"hsa-miR-16","g":"AIH","c":2,"v":16.9},{"m":"hsa-miR-16","g":"AIH","c":3,"v":16.2},
{"m":"hsa-miR-16","g":"NASH","c":1,"v":13.0},{"m":"hsa-miR-16","g":"NASH","c":2,"v":16.8},{"m":"hsa-miR-16","g":"NASH","c":3,"v":16.6},{"m":"hsa-miR-16","g":"NASH","c":4,"v":16.6},{"m":"hsa-miR-16","g":"NASH","c":5,"v":13.5},
{"m":"hsa-miR-16","g":"DILI","c":1,"v":16.0},{"m":"hsa-miR-16","g":"DILI","c":2,"v":15.9},{"m":"hsa-miR-16","g":"DILI","c":3,"v":18.3},{"m":"hsa-miR-16","g":"DILI","c":4,"v":18.6},{"m":"hsa-miR-16","g":"DILI","c":5,"v":18.2},{"m":"hsa-miR-16","g":"DILI","c":6,"v":18.9},{"m":"hsa-miR-16","g":"DILI","c":7,"v":16.8},
{"m":"hsa-miR-16","g":"Ctrl","c":1,"v":12.0},{"m":"hsa-miR-16","g":"Ctrl","c":2,"v":15.7},{"m":"hsa-miR-16","g":"Ctrl","c":3,"v":14.4},{"m":"hsa-miR-16","g":"Ctrl","c":4,"v":15.9},
{"m":"hsa-miR-222","g":"HB","c":1,"v":15.1},{"m":"hsa-miR-222","g":"HB","c":2,"v":14.9},{"m":"hsa-miR-222","g":"HB","c":3,"v":13.8},{"m":"hsa-miR-222","g":"HB","c":4,"v":12.6},{"m":"hsa-miR-222","g":"HB","c":5,"v":14.9},{"m":"hsa-miR-222","g":"HB","c":6,"v":14.6},
{"m":"hsa-miR-222","g":"HC","c":1,"v":15.0},{"m":"hsa-miR-222","g":"HC","c":2,"v":14.5},{"m":"hsa-miR-222","g":"HC","c":3,"v":12.8},{"m":"hsa-miR-222","g":"HC","c":4,"v":11.0},
{"m":"hsa-miR-222","g":"PBC","c":1,"v":14.7},{"m":"hsa-miR-222","g":"PBC","c":2,"v":14.0},{"m":"hsa-miR-222","g":"PBC","c":3,"v":12.2},
{"m":"hsa-miR-222","g":"AIH","c":1,"v":12.5},{"m":"hsa-miR-222","g":"AIH","c":2,"v":14.6},{"m":"hsa-miR-222","g":"AIH","c":3,"v":14.4},
{"m":"hsa-miR-222","g":"NASH","c":1,"v":12.5},{"m":"hsa-miR-222","g":"NASH","c":2,"v":15.1},{"m":"hsa-miR-222","g":"NASH","c":3,"v":15.6},{"m":"hsa-miR-222","g":"NASH","c":4,"v":15.1},{"m":"hsa-miR-222","g":"NASH","c":5,"v":14.0},
{"m":"hsa-miR-222","g":"DILI","c":1,"v":15.4},{"m":"hsa-miR-222","g":"DILI","c":2,"v":14.8},{"m":"hsa-miR-222","g":"DILI","c":3,"v":17.1},{"m":"hsa-miR-222","g":"DILI","c":4,"v":16.4},{"m":"hsa-miR-222","g":"DILI","c":5,"v":15.9},{"m":"hsa-miR-222","g":"DILI","c":6,"v":15.3},{"m":"hsa-miR-222","g":"DILI","c":7,"v":14.7},
{"m":"hsa-miR-222","g":"Ctrl","c":1,"v":12.8},{"m":"hsa-miR-222","g":"Ctrl","c":2,"v":12.8},{"m":"hsa-miR-222","g":"Ctrl","c":3,"v":13.0},{"m":"hsa-miR-222","g":"Ctrl","c":4,"v":14.1},
{"m":"hsa-miR-320","g":"HB","c":1,"v":14.6},{"m":"hsa-miR-320","g":"HB","c":2,"v":14.2},{"m":"hsa-miR-320","g":"HB","c":3,"v":13.0},{"m":"hsa-miR-320","g":"HB","c":4,"v":12.5},{"m":"hsa-miR-320","g":"HB","c":5,"v":13.6},{"m":"hsa-miR-320","g":"HB","c":6,"v":13.5},
{"m":"hsa-miR-320","g":"HC","c":1,"v":12.8},{"m":"hsa-miR-320","g":"HC","c":2,"v":13.6},{"m":"hsa-miR-320","g":"HC","c":3,"v":12.2},{"m":"hsa-miR-320","g":"HC","c":4,"v":11.0},
{"m":"hsa-miR-320","g":"PBC","c":1,"v":15.5},{"m":"hsa-miR-320","g":"PBC","c":2,"v":13.0},{"m":"hsa-miR-320","g":"PBC","c":3,"v":12.5},
{"m":"hsa-miR-320","g":"AIH","c":1,"v":12.5},{"m":"hsa-miR-320","g":"AIH","c":2,"v":13.0},{"m":"hsa-miR-320","g":"AIH","c":3,"v":12.6},
{"m":"hsa-miR-320","g":"NASH","c":1,"v":13.0},{"m":"hsa-miR-320","g":"NASH","c":2,"v":14.8},{"m":"hsa-miR-320","g":"NASH","c":3,"v":14.4},{"m":"hsa-miR-320","g":"NASH","c":4,"v":13.2},{"m":"hsa-miR-320","g":"NASH","c":5,"v":13.6},
{"m":"hsa-miR-320","g":"DILI","c":1,"v":16.0},{"m":"hsa-miR-320","g":"DILI","c":2,"v":14.5},{"m":"hsa-miR-320","g":"DILI","c":3,"v":15.9},{"m":"hsa-miR-320","g":"DILI","c":4,"v":15.6},{"m":"hsa-miR-320","g":"DILI","c":5,"v":14.1},{"m":"hsa-miR-320","g":"DILI","c":6,"v":13.5},{"m":"hsa-miR-320","g":"DILI","c":7,"v":15.6},
{"m":"hsa-miR-320","g":"Ctrl","c":1,"v":12.5},{"m":"hsa-miR-320","g":"Ctrl","c":2,"v":12.5},{"m":"hsa-miR-320","g":"Ctrl","c":3,"v":12.0},{"m":"hsa-miR-320","g":"Ctrl","c":4,"v":13.0},
{"m":"hsa-miR-345","g":"HB","c":1,"v":11.0},{"m":"hsa-miR-345","g":"HB","c":2,"v":9.6},{"m":"hsa-miR-345","g":"HB","c":3,"v":9.2},{"m":"hsa-miR-345","g":"HB","c":4,"v":0},{"m":"hsa-miR-345","g":"HB","c":5,"v":9.8},{"m":"hsa-miR-345","g":"HB","c":6,"v":11.4},
{"m":"hsa-miR-345","g":"HC","c":1,"v":0},{"m":"hsa-miR-345","g":"HC","c":2,"v":10.0},{"m":"hsa-miR-345","g":"HC","c":3,"v":0},{"m":"hsa-miR-345","g":"HC","c":4,"v":0},
{"m":"hsa-miR-345","g":"PBC","c":1,"v":0},{"m":"hsa-miR-345","g":"PBC","c":2,"v":10.6},{"m":"hsa-miR-345","g":"PBC","c":3,"v":9.6},
{"m":"hsa-miR-345","g":"AIH","c":1,"v":0},{"m":"hsa-miR-345","g":"AIH","c":2,"v":0},{"m":"hsa-miR-345","g":"AIH","c":3,"v":0},
{"m":"hsa-miR-345","g":"NASH","c":1,"v":0},{"m":"hsa-miR-345","g":"NASH","c":2,"v":10.0},{"m":"hsa-miR-345","g":"NASH","c":3,"v":10.8},{"m":"hsa-miR-345","g":"NASH","c":4,"v":11.0},{"m":"hsa-miR-345","g":"NASH","c":5,"v":9.9},
{"m":"hsa-miR-345","g":"DILI","c":1,"v":11.0},{"m":"hsa-miR-345","g":"DILI","c":2,"v":10.0},{"m":"hsa-miR-345","g":"DILI","c":3,"v":10.3},{"m":"hsa-miR-345","g":"DILI","c":4,"v":10.1},{"m":"hsa-miR-345","g":"DILI","c":5,"v":11.0},{"m":"hsa-miR-345","g":"DILI","c":6,"v":10.2},{"m":"hsa-miR-345","g":"DILI","c":7,"v":10.6},
{"m":"hsa-miR-345","g":"Ctrl","c":1,"v":0},{"m":"hsa-miR-345","g":"Ctrl","c":2,"v":0},{"m":"hsa-miR-345","g":"Ctrl","c":3,"v":0},{"m":"hsa-miR-345","g":"Ctrl","c":4,"v":0},
{"m":"hsa-miR-483-5p","g":"HB","c":1,"v":11.2},{"m":"hsa-miR-483-5p","g":"HB","c":2,"v":12.2},{"m":"hsa-miR-483-5p","g":"HB","c":3,"v":10.4},{"m":"hsa-miR-483-5p","g":"HB","c":4,"v":9.9},{"m":"hsa-miR-483-5p","g":"HB","c":5,"v":11.0},{"m":"hsa-miR-483-5p","g":"HB","c":6,"v":10.0},
{"m":"hsa-miR-483-5p","g":"HC","c":1,"v":11.2},{"m":"hsa-miR-483-5p","g":"HC","c":2,"v":12.8},{"m":"hsa-miR-483-5p","g":"HC","c":3,"v":10.0},{"m":"hsa-miR-483-5p","g":"HC","c":4,"v":10.0},
{"m":"hsa-miR-483-5p","g":"PBC","c":1,"v":11.0},{"m":"hsa-miR-483-5p","g":"PBC","c":2,"v":11.2},{"m":"hsa-miR-483-5p","g":"PBC","c":3,"v":9.9},
{"m":"hsa-miR-483-5p","g":"AIH","c":1,"v":12.2},{"m":"hsa-miR-483-5p","g":"AIH","c":2,"v":9.5},{"m":"hsa-miR-483-5p","g":"AIH","c":3,"v":0},
{"m":"hsa-miR-483-5p","g":"NASH","c":1,"v":12.0},{"m":"hsa-miR-483-5p","g":"NASH","c":2,"v":12.2},{"m":"hsa-miR-483-5p","g":"NASH","c":3,"v":11.5},{"m":"hsa-miR-483-5p","g":"NASH","c":4,"v":11.6},{"m":"hsa-miR-483-5p","g":"NASH","c":5,"v":11.0},
{"m":"hsa-miR-483-5p","g":"DILI","c":1,"v":14.6},{"m":"hsa-miR-483-5p","g":"DILI","c":2,"v":11.2},{"m":"hsa-miR-483-5p","g":"DILI","c":3,"v":14.8},{"m":"hsa-miR-483-5p","g":"DILI","c":4,"v":14.2},{"m":"hsa-miR-483-5p","g":"DILI","c":5,"v":13.0},{"m":"hsa-miR-483-5p","g":"DILI","c":6,"v":12.5},{"m":"hsa-miR-483-5p","g":"DILI","c":7,"v":16.0},
{"m":"hsa-miR-483-5p","g":"Ctrl","c":1,"v":9.5},{"m":"hsa-miR-483-5p","g":"Ctrl","c":2,"v":0},{"m":"hsa-miR-483-5p","g":"Ctrl","c":3,"v":0},{"m":"hsa-miR-483-5p","g":"Ctrl","c":4,"v":9.4},
{"m":"hsa-miR-193b","g":"HB","c":1,"v":11.2},{"m":"hsa-miR-193b","g":"HB","c":2,"v":11.0},{"m":"hsa-miR-193b","g":"HB","c":3,"v":10.4},{"m":"hsa-miR-193b","g":"HB","c":4,"v":10.6},{"m":"hsa-miR-193b","g":"HB","c":5,"v":10.5},{"m":"hsa-miR-193b","g":"HB","c":6,"v":0},
{"m":"hsa-miR-193b","g":"HC","c":1,"v":0},{"m":"hsa-miR-193b","g":"HC","c":2,"v":11.0},{"m":"hsa-miR-193b","g":"HC","c":3,"v":9.4},{"m":"hsa-miR-193b","g":"HC","c":4,"v":0},
{"m":"hsa-miR-193b","g":"PBC","c":1,"v":11.0},{"m":"hsa-miR-193b","g":"PBC","c":2,"v":11.0},{"m":"hsa-miR-193b","g":"PBC","c":3,"v":0},
{"m":"hsa-miR-193b","g":"AIH","c":1,"v":0},{"m":"hsa-miR-193b","g":"AIH","c":2,"v":0},{"m":"hsa-miR-193b","g":"AIH","c":3,"v":0},
{"m":"hsa-miR-193b","g":"NASH","c":1,"v":10.6},{"m":"hsa-miR-193b","g":"NASH","c":2,"v":11.2},{"m":"hsa-miR-193b","g":"NASH","c":3,"v":10.2},{"m":"hsa-miR-193b","g":"NASH","c":4,"v":11.0},{"m":"hsa-miR-193b","g":"NASH","c":5,"v":11.5},
{"m":"hsa-miR-193b","g":"DILI","c":1,"v":12.2},{"m":"hsa-miR-193b","g":"DILI","c":2,"v":11.0},{"m":"hsa-miR-193b","g":"DILI","c":3,"v":15.5},{"m":"hsa-miR-193b","g":"DILI","c":4,"v":13.0},{"m":"hsa-miR-193b","g":"DILI","c":5,"v":11.0},{"m":"hsa-miR-193b","g":"DILI","c":6,"v":0},{"m":"hsa-miR-193b","g":"DILI","c":7,"v":15.0},
{"m":"hsa-miR-193b","g":"Ctrl","c":1,"v":0},{"m":"hsa-miR-193b","g":"Ctrl","c":2,"v":0},{"m":"hsa-miR-193b","g":"Ctrl","c":3,"v":0},{"m":"hsa-miR-193b","g":"Ctrl","c":4,"v":0},
{"m":"hsa-miR-21","g":"HB","c":1,"v":12.8},{"m":"hsa-miR-21","g":"HB","c":2,"v":12.4},{"m":"hsa-miR-21","g":"HB","c":3,"v":12.0},{"m":"hsa-miR-21","g":"HB","c":4,"v":0},{"m":"hsa-miR-21","g":"HB","c":5,"v":11.0},{"m":"hsa-miR-21","g":"HB","c":6,"v":10.2},
{"m":"hsa-miR-21","g":"HC","c":1,"v":10.2},{"m":"hsa-miR-21","g":"HC","c":2,"v":11.0},{"m":"hsa-miR-21","g":"HC","c":3,"v":0},{"m":"hsa-miR-21","g":"HC","c":4,"v":0},
{"m":"hsa-miR-21","g":"PBC","c":1,"v":12.0},{"m":"hsa-miR-21","g":"PBC","c":2,"v":12.0},{"m":"hsa-miR-21","g":"PBC","c":3,"v":11.0},
{"m":"hsa-miR-21","g":"AIH","c":1,"v":11.0},{"m":"hsa-miR-21","g":"AIH","c":2,"v":12.0},{"m":"hsa-miR-21","g":"AIH","c":3,"v":11.0},
{"m":"hsa-miR-21","g":"NASH","c":1,"v":11.0},{"m":"hsa-miR-21","g":"NASH","c":2,"v":12.5},{"m":"hsa-miR-21","g":"NASH","c":3,"v":12.0},{"m":"hsa-miR-21","g":"NASH","c":4,"v":12.5},{"m":"hsa-miR-21","g":"NASH","c":5,"v":11.5},
{"m":"hsa-miR-21","g":"DILI","c":1,"v":14.0},{"m":"hsa-miR-21","g":"DILI","c":2,"v":15.0},{"m":"hsa-miR-21","g":"DILI","c":3,"v":16.1},{"m":"hsa-miR-21","g":"DILI","c":4,"v":14.0},{"m":"hsa-miR-21","g":"DILI","c":5,"v":12.5},{"m":"hsa-miR-21","g":"DILI","c":6,"v":12.0},{"m":"hsa-miR-21","g":"DILI","c":7,"v":12.0},
{"m":"hsa-miR-21","g":"Ctrl","c":1,"v":9.5},{"m":"hsa-miR-21","g":"Ctrl","c":2,"v":0},{"m":"hsa-miR-21","g":"Ctrl","c":3,"v":11.0},{"m":"hsa-miR-21","g":"Ctrl","c":4,"v":11.2},
{"m":"hsa-miR-20a","g":"HB","c":1,"v":16.9},{"m":"hsa-miR-20a","g":"HB","c":2,"v":16.3},{"m":"hsa-miR-20a","g":"HB","c":3,"v":15.6},{"m":"hsa-miR-20a","g":"HB","c":4,"v":11.5},{"m":"hsa-miR-20a","g":"HB","c":5,"v":14.6},{"m":"hsa-miR-20a","g":"HB","c":6,"v":13.5},
{"m":"hsa-miR-20a","g":"HC","c":1,"v":12.5},{"m":"hsa-miR-20a","g":"HC","c":2,"v":13.4},{"m":"hsa-miR-20a","g":"HC","c":3,"v":11.5},{"m":"hsa-miR-20a","g":"HC","c":4,"v":0},
{"m":"hsa-miR-20a","g":"PBC","c":1,"v":17.0},{"m":"hsa-miR-20a","g":"PBC","c":2,"v":15.1},{"m":"hsa-miR-20a","g":"PBC","c":3,"v":13.5},
{"m":"hsa-miR-20a","g":"AIH","c":1,"v":13.0},{"m":"hsa-miR-20a","g":"AIH","c":2,"v":15.5},{"m":"hsa-miR-20a","g":"AIH","c":3,"v":13.0},
{"m":"hsa-miR-20a","g":"NASH","c":1,"v":11.5},{"m":"hsa-miR-20a","g":"NASH","c":2,"v":15.4},{"m":"hsa-miR-20a","g":"NASH","c":3,"v":15.3},{"m":"hsa-miR-20a","g":"NASH","c":4,"v":15.9},{"m":"hsa-miR-20a","g":"NASH","c":5,"v":13.4},
{"m":"hsa-miR-20a","g":"DILI","c":1,"v":15.2},{"m":"hsa-miR-20a","g":"DILI","c":2,"v":15.4},{"m":"hsa-miR-20a","g":"DILI","c":3,"v":18.1},{"m":"hsa-miR-20a","g":"DILI","c":4,"v":16.6},{"m":"hsa-miR-20a","g":"DILI","c":5,"v":15.6},{"m":"hsa-miR-20a","g":"DILI","c":6,"v":14.2},{"m":"hsa-miR-20a","g":"DILI","c":7,"v":13.4},
{"m":"hsa-miR-20a","g":"Ctrl","c":1,"v":11.0},{"m":"hsa-miR-20a","g":"Ctrl","c":2,"v":14.2},{"m":"hsa-miR-20a","g":"Ctrl","c":3,"v":14.5},{"m":"hsa-miR-20a","g":"Ctrl","c":4,"v":15.6},
{"m":"hsa-miR-92a","g":"HB","c":1,"v":16.5},{"m":"hsa-miR-92a","g":"HB","c":2,"v":16.0},{"m":"hsa-miR-92a","g":"HB","c":3,"v":14.9},{"m":"hsa-miR-92a","g":"HB","c":4,"v":12.5},{"m":"hsa-miR-92a","g":"HB","c":5,"v":14.5},{"m":"hsa-miR-92a","g":"HB","c":6,"v":14.9},
{"m":"hsa-miR-92a","g":"HC","c":1,"v":13.0},{"m":"hsa-miR-92a","g":"HC","c":2,"v":13.0},{"m":"hsa-miR-92a","g":"HC","c":3,"v":12.5},{"m":"hsa-miR-92a","g":"HC","c":4,"v":11.0},
{"m":"hsa-miR-92a","g":"PBC","c":1,"v":17.8},{"m":"hsa-miR-92a","g":"PBC","c":2,"v":15.2},{"m":"hsa-miR-92a","g":"PBC","c":3,"v":13.5},
{"m":"hsa-miR-92a","g":"AIH","c":1,"v":13.5},{"m":"hsa-miR-92a","g":"AIH","c":2,"v":14.5},{"m":"hsa-miR-92a","g":"AIH","c":3,"v":12.5},
{"m":"hsa-miR-92a","g":"NASH","c":1,"v":13.0},{"m":"hsa-miR-92a","g":"NASH","c":2,"v":15.6},{"m":"hsa-miR-92a","g":"NASH","c":3,"v":15.4},{"m":"hsa-miR-92a","g":"NASH","c":4,"v":15.6},{"m":"hsa-miR-92a","g":"NASH","c":5,"v":15.1},
{"m":"hsa-miR-92a","g":"DILI","c":1,"v":15.5},{"m":"hsa-miR-92a","g":"DILI","c":2,"v":15.8},{"m":"hsa-miR-92a","g":"DILI","c":3,"v":18.2},{"m":"hsa-miR-92a","g":"DILI","c":4,"v":17.7},{"m":"hsa-miR-92a","g":"DILI","c":5,"v":15.9},{"m":"hsa-miR-92a","g":"DILI","c":6,"v":14.9},{"m":"hsa-miR-92a","g":"DILI","c":7,"v":17.0},
{"m":"hsa-miR-92a","g":"Ctrl","c":1,"v":11.5},{"m":"hsa-miR-92a","g":"Ctrl","c":2,"v":13.0},{"m":"hsa-miR-92a","g":"Ctrl","c":3,"v":16.7},{"m":"hsa-miR-92a","g":"Ctrl","c":4,"v":14.5},
{"m":"hsa-miR-375","g":"HB","c":1,"v":10.2},{"m":"hsa-miR-375","g":"HB","c":2,"v":10.6},{"m":"hsa-miR-375","g":"HB","c":3,"v":9.9},{"m":"hsa-miR-375","g":"HB","c":4,"v":0},{"m":"hsa-miR-375","g":"HB","c":5,"v":0},{"m":"hsa-miR-375","g":"HB","c":6,"v":0},
{"m":"hsa-miR-375","g":"HC","c":1,"v":0},{"m":"hsa-miR-375","g":"HC","c":2,"v":0},{"m":"hsa-miR-375","g":"HC","c":3,"v":0},{"m":"hsa-miR-375","g":"HC","c":4,"v":0},
{"m":"hsa-miR-375","g":"PBC","c":1,"v":9.2},{"m":"hsa-miR-375","g":"PBC","c":2,"v":9.5},{"m":"hsa-miR-375","g":"PBC","c":3,"v":8.2},
{"m":"hsa-miR-375","g":"AIH","c":1,"v":10.4},{"m":"hsa-miR-375","g":"AIH","c":2,"v":8.8},{"m":"hsa-miR-375","g":"AIH","c":3,"v":10.4},
{"m":"hsa-miR-375","g":"NASH","c":1,"v":0},{"m":"hsa-miR-375","g":"NASH","c":2,"v":9.8},{"m":"hsa-miR-375","g":"NASH","c":3,"v":9.2},{"m":"hsa-miR-375","g":"NASH","c":4,"v":10.6},{"m":"hsa-miR-375","g":"NASH","c":5,"v":0},
{"m":"hsa-miR-375","g":"DILI","c":1,"v":11.0},{"m":"hsa-miR-375","g":"DILI","c":2,"v":11.0},{"m":"hsa-miR-375","g":"DILI","c":3,"v":11.0},{"m":"hsa-miR-375","g":"DILI","c":4,"v":10.2},{"m":"hsa-miR-375","g":"DILI","c":5,"v":11.0},{"m":"hsa-miR-375","g":"DILI","c":6,"v":0},{"m":"hsa-miR-375","g":"DILI","c":7,"v":10.0},
{"m":"hsa-miR-375","g":"Ctrl","c":1,"v":0},{"m":"hsa-miR-375","g":"Ctrl","c":2,"v":10.4},{"m":"hsa-miR-375","g":"Ctrl","c":3,"v":0},{"m":"hsa-miR-375","g":"Ctrl","c":4,"v":0},
{"m":"hsa-miR-423-5p","g":"HB","c":1,"v":0},{"m":"hsa-miR-423-5p","g":"HB","c":2,"v":0},{"m":"hsa-miR-423-5p","g":"HB","c":3,"v":0},{"m":"hsa-miR-423-5p","g":"HB","c":4,"v":0},{"m":"hsa-miR-423-5p","g":"HB","c":5,"v":0},{"m":"hsa-miR-423-5p","g":"HB","c":6,"v":0},
{"m":"hsa-miR-423-5p","g":"HC","c":1,"v":0},{"m":"hsa-miR-423-5p","g":"HC","c":2,"v":0},{"m":"hsa-miR-423-5p","g":"HC","c":3,"v":0},{"m":"hsa-miR-423-5p","g":"HC","c":4,"v":0},
{"m":"hsa-miR-423-5p","g":"PBC","c":1,"v":8.5},{"m":"hsa-miR-423-5p","g":"PBC","c":2,"v":8.7},{"m":"hsa-miR-423-5p","g":"PBC","c":3,"v":0},
{"m":"hsa-miR-423-5p","g":"AIH","c":1,"v":0},{"m":"hsa-miR-423-5p","g":"AIH","c":2,"v":0},{"m":"hsa-miR-423-5p","g":"AIH","c":3,"v":0},
{"m":"hsa-miR-423-5p","g":"NASH","c":1,"v":0},{"m":"hsa-miR-423-5p","g":"NASH","c":2,"v":0},{"m":"hsa-miR-423-5p","g":"NASH","c":3,"v":0},{"m":"hsa-miR-423-5p","g":"NASH","c":4,"v":0},{"m":"hsa-miR-423-5p","g":"NASH","c":5,"v":0},
{"m":"hsa-miR-423-5p","g":"DILI","c":1,"v":9.2},{"m":"hsa-miR-423-5p","g":"DILI","c":2,"v":0},{"m":"hsa-miR-423-5p","g":"DILI","c":3,"v":9.4},{"m":"hsa-miR-423-5p","g":"DILI","c":4,"v":10.4},{"m":"hsa-miR-423-5p","g":"DILI","c":5,"v":9.7},{"m":"hsa-miR-423-5p","g":"DILI","c":6,"v":0},{"m":"hsa-miR-423-5p","g":"DILI","c":7,"v":0},
{"m":"hsa-miR-423-5p","g":"Ctrl","c":1,"v":0},{"m":"hsa-miR-423-5p","g":"Ctrl","c":2,"v":0},{"m":"hsa-miR-423-5p","g":"Ctrl","c":3,"v":0},{"m":"hsa-miR-423-5p","g":"Ctrl","c":4,"v":0},
{"m":"hsa-miR-374a","g":"HB","c":1,"v":11.6},{"m":"hsa-miR-374a","g":"HB","c":2,"v":11.0},{"m":"hsa-miR-374a","g":"HB","c":3,"v":10.6},{"m":"hsa-miR-374a","g":"HB","c":4,"v":10.4},{"m":"hsa-miR-374a","g":"HB","c":5,"v":11.0},{"m":"hsa-miR-374a","g":"HB","c":6,"v":11.0},
{"m":"hsa-miR-374a","g":"HC","c":1,"v":10.4},{"m":"hsa-miR-374a","g":"HC","c":2,"v":11.4},{"m":"hsa-miR-374a","g":"HC","c":3,"v":0},{"m":"hsa-miR-374a","g":"HC","c":4,"v":0},
{"m":"hsa-miR-374a","g":"PBC","c":1,"v":11.0},{"m":"hsa-miR-374a","g":"PBC","c":2,"v":11.0},{"m":"hsa-miR-374a","g":"PBC","c":3,"v":10.6},
{"m":"hsa-miR-374a","g":"AIH","c":1,"v":11.5},{"m":"hsa-miR-374a","g":"AIH","c":2,"v":11.0},{"m":"hsa-miR-374a","g":"AIH","c":3,"v":10.4},
{"m":"hsa-miR-374a","g":"NASH","c":1,"v":10.2},{"m":"hsa-miR-374a","g":"NASH","c":2,"v":11.0},{"m":"hsa-miR-374a","g":"NASH","c":3,"v":11.5},{"m":"hsa-miR-374a","g":"NASH","c":4,"v":12.0},{"m":"hsa-miR-374a","g":"NASH","c":5,"v":11.5},
{"m":"hsa-miR-374a","g":"DILI","c":1,"v":12.0},{"m":"hsa-miR-374a","g":"DILI","c":2,"v":12.0},{"m":"hsa-miR-374a","g":"DILI","c":3,"v":11.4},{"m":"hsa-miR-374a","g":"DILI","c":4,"v":11.4},{"m":"hsa-miR-374a","g":"DILI","c":5,"v":11.0},{"m":"hsa-miR-374a","g":"DILI","c":6,"v":11.0},{"m":"hsa-miR-374a","g":"DILI","c":7,"v":10.4},
{"m":"hsa-miR-374a","g":"Ctrl","c":1,"v":0},{"m":"hsa-miR-374a","g":"Ctrl","c":2,"v":0},{"m":"hsa-miR-374a","g":"Ctrl","c":3,"v":10.6},{"m":"hsa-miR-374a","g":"Ctrl","c":4,"v":11.0},
{"m":"hsa-miR-19a","g":"HB","c":1,"v":11.6},{"m":"hsa-miR-19a","g":"HB","c":2,"v":12.0},{"m":"hsa-miR-19a","g":"HB","c":3,"v":11.0},{"m":"hsa-miR-19a","g":"HB","c":4,"v":11.0},{"m":"hsa-miR-19a","g":"HB","c":5,"v":12.0},{"m":"hsa-miR-19a","g":"HB","c":6,"v":11.6},
{"m":"hsa-miR-19a","g":"HC","c":1,"v":0},{"m":"hsa-miR-19a","g":"HC","c":2,"v":11.0},{"m":"hsa-miR-19a","g":"HC","c":3,"v":0},{"m":"hsa-miR-19a","g":"HC","c":4,"v":8.4},
{"m":"hsa-miR-19a","g":"PBC","c":1,"v":11.0},{"m":"hsa-miR-19a","g":"PBC","c":2,"v":11.0},{"m":"hsa-miR-19a","g":"PBC","c":3,"v":11.0},
{"m":"hsa-miR-19a","g":"AIH","c":1,"v":10.4},{"m":"hsa-miR-19a","g":"AIH","c":2,"v":9.8},{"m":"hsa-miR-19a","g":"AIH","c":3,"v":11.0},
{"m":"hsa-miR-19a","g":"NASH","c":1,"v":10.0},{"m":"hsa-miR-19a","g":"NASH","c":2,"v":11.5},{"m":"hsa-miR-19a","g":"NASH","c":3,"v":11.5},{"m":"hsa-miR-19a","g":"NASH","c":4,"v":13.0},{"m":"hsa-miR-19a","g":"NASH","c":5,"v":11.5},
{"m":"hsa-miR-19a","g":"DILI","c":1,"v":12.5},{"m":"hsa-miR-19a","g":"DILI","c":2,"v":11.5},{"m":"hsa-miR-19a","g":"DILI","c":3,"v":13.0},{"m":"hsa-miR-19a","g":"DILI","c":4,"v":12.0},{"m":"hsa-miR-19a","g":"DILI","c":5,"v":11.5},{"m":"hsa-miR-19a","g":"DILI","c":6,"v":11.5},{"m":"hsa-miR-19a","g":"DILI","c":7,"v":12.0},
{"m":"hsa-miR-19a","g":"Ctrl","c":1,"v":0},{"m":"hsa-miR-19a","g":"Ctrl","c":2,"v":10.5},{"m":"hsa-miR-19a","g":"Ctrl","c":3,"v":10.6},{"m":"hsa-miR-19a","g":"Ctrl","c":4,"v":11.0},
{"m":"hsa-miR-19b","g":"HB","c":1,"v":16.9},{"m":"hsa-miR-19b","g":"HB","c":2,"v":16.2},{"m":"hsa-miR-19b","g":"HB","c":3,"v":15.4},{"m":"hsa-miR-19b","g":"HB","c":4,"v":14.2},{"m":"hsa-miR-19b","g":"HB","c":5,"v":15.2},{"m":"hsa-miR-19b","g":"HB","c":6,"v":14.7},
{"m":"hsa-miR-19b","g":"HC","c":1,"v":13.5},{"m":"hsa-miR-19b","g":"HC","c":2,"v":14.1},{"m":"hsa-miR-19b","g":"HC","c":3,"v":13.0},{"m":"hsa-miR-19b","g":"HC","c":4,"v":11.0},
{"m":"hsa-miR-19b","g":"PBC","c":1,"v":17.1},{"m":"hsa-miR-19b","g":"PBC","c":2,"v":15.6},{"m":"hsa-miR-19b","g":"PBC","c":3,"v":14.8},
{"m":"hsa-miR-19b","g":"AIH","c":1,"v":14.6},{"m":"hsa-miR-19b","g":"AIH","c":2,"v":15.9},{"m":"hsa-miR-19b","g":"AIH","c":3,"v":14.3},
{"m":"hsa-miR-19b","g":"NASH","c":1,"v":13.5},{"m":"hsa-miR-19b","g":"NASH","c":2,"v":18.0},{"m":"hsa-miR-19b","g":"NASH","c":3,"v":18.0},{"m":"hsa-miR-19b","g":"NASH","c":4,"v":16.9},{"m":"hsa-miR-19b","g":"NASH","c":5,"v":15.4},
{"m":"hsa-miR-19b","g":"DILI","c":1,"v":15.2},{"m":"hsa-miR-19b","g":"DILI","c":2,"v":15.4},{"m":"hsa-miR-19b","g":"DILI","c":3,"v":16.9},{"m":"hsa-miR-19b","g":"DILI","c":4,"v":15.7},{"m":"hsa-miR-19b","g":"DILI","c":5,"v":16.7},{"m":"hsa-miR-19b","g":"DILI","c":6,"v":15.9},{"m":"hsa-miR-19b","g":"DILI","c":7,"v":16.2},
{"m":"hsa-miR-19b","g":"Ctrl","c":1,"v":11.5},{"m":"hsa-miR-19b","g":"Ctrl","c":2,"v":14.8},{"m":"hsa-miR-19b","g":"Ctrl","c":3,"v":14.8},{"m":"hsa-miR-19b","g":"Ctrl","c":4,"v":15.5},
{"m":"hsa-miR-26b","g":"HB","c":1,"v":12.0},{"m":"hsa-miR-26b","g":"HB","c":2,"v":12.0},{"m":"hsa-miR-26b","g":"HB","c":3,"v":12.2},{"m":"hsa-miR-26b","g":"HB","c":4,"v":12.0},{"m":"hsa-miR-26b","g":"HB","c":5,"v":12.0},{"m":"hsa-miR-26b","g":"HB","c":6,"v":11.4},
{"m":"hsa-miR-26b","g":"HC","c":1,"v":10.1},{"m":"hsa-miR-26b","g":"HC","c":2,"v":10.2},{"m":"hsa-miR-26b","g":"HC","c":3,"v":0},{"m":"hsa-miR-26b","g":"HC","c":4,"v":0},
{"m":"hsa-miR-26b","g":"PBC","c":1,"v":11.4},{"m":"hsa-miR-26b","g":"PBC","c":2,"v":12.0},{"m":"hsa-miR-26b","g":"PBC","c":3,"v":10.6},
{"m":"hsa-miR-26b","g":"AIH","c":1,"v":10.2},{"m":"hsa-miR-26b","g":"AIH","c":2,"v":9.8},{"m":"hsa-miR-26b","g":"AIH","c":3,"v":11.0},
{"m":"hsa-miR-26b","g":"NASH","c":1,"v":10.2},{"m":"hsa-miR-26b","g":"NASH","c":2,"v":12.0},{"m":"hsa-miR-26b","g":"NASH","c":3,"v":12.0},{"m":"hsa-miR-26b","g":"NASH","c":4,"v":13.2},{"m":"hsa-miR-26b","g":"NASH","c":5,"v":11.0},
{"m":"hsa-miR-26b","g":"DILI","c":1,"v":12.0},{"m":"hsa-miR-26b","g":"DILI","c":2,"v":12.0},{"m":"hsa-miR-26b","g":"DILI","c":3,"v":12.0},{"m":"hsa-miR-26b","g":"DILI","c":4,"v":12.0},{"m":"hsa-miR-26b","g":"DILI","c":5,"v":11.0},{"m":"hsa-miR-26b","g":"DILI","c":6,"v":10.5},{"m":"hsa-miR-26b","g":"DILI","c":7,"v":10.5},
{"m":"hsa-miR-26b","g":"Ctrl","c":1,"v":0},{"m":"hsa-miR-26b","g":"Ctrl","c":2,"v":10.4},{"m":"hsa-miR-26b","g":"Ctrl","c":3,"v":10.0},{"m":"hsa-miR-26b","g":"Ctrl","c":4,"v":11.0},
{"m":"hsa-miR-142-3p","g":"HB","c":1,"v":12.5},{"m":"hsa-miR-142-3p","g":"HB","c":2,"v":12.0},{"m":"hsa-miR-142-3p","g":"HB","c":3,"v":12.0},{"m":"hsa-miR-142-3p","g":"HB","c":4,"v":11.6},{"m":"hsa-miR-142-3p","g":"HB","c":5,"v":12.0},{"m":"hsa-miR-142-3p","g":"HB","c":6,"v":11.0},
{"m":"hsa-miR-142-3p","g":"HC","c":1,"v":9.9},{"m":"hsa-miR-142-3p","g":"HC","c":2,"v":9.7},{"m":"hsa-miR-142-3p","g":"HC","c":3,"v":8.0},{"m":"hsa-miR-142-3p","g":"HC","c":4,"v":0},
{"m":"hsa-miR-142-3p","g":"PBC","c":1,"v":12.0},{"m":"hsa-miR-142-3p","g":"PBC","c":2,"v":11.0},{"m":"hsa-miR-142-3p","g":"PBC","c":3,"v":11.0},
{"m":"hsa-miR-142-3p","g":"AIH","c":1,"v":11.0},{"m":"hsa-miR-142-3p","g":"AIH","c":2,"v":11.5},{"m":"hsa-miR-142-3p","g":"AIH","c":3,"v":11.0},
{"m":"hsa-miR-142-3p","g":"NASH","c":1,"v":10.0},{"m":"hsa-miR-142-3p","g":"NASH","c":2,"v":12.0},{"m":"hsa-miR-142-3p","g":"NASH","c":3,"v":11.5},{"m":"hsa-miR-142-3p","g":"NASH","c":4,"v":13.6},{"m":"hsa-miR-142-3p","g":"NASH","c":5,"v":11.0},
{"m":"hsa-miR-142-3p","g":"DILI","c":1,"v":12.0},{"m":"hsa-miR-142-3p","g":"DILI","c":2,"v":11.5},{"m":"hsa-miR-142-3p","g":"DILI","c":3,"v":13.0},{"m":"hsa-miR-142-3p","g":"DILI","c":4,"v":12.0},{"m":"hsa-miR-142-3p","g":"DILI","c":5,"v":11.5},{"m":"hsa-miR-142-3p","g":"DILI","c":6,"v":11.0},{"m":"hsa-miR-142-3p","g":"DILI","c":7,"v":11.0},
{"m":"hsa-miR-142-3p","g":"Ctrl","c":1,"v":10.5},{"m":"hsa-miR-142-3p","g":"Ctrl","c":2,"v":10.5},{"m":"hsa-miR-142-3p","g":"Ctrl","c":3,"v":11.0},{"m":"hsa-miR-142-3p","g":"Ctrl","c":4,"v":11.0},
{"m":"hsa-miR-25","g":"HB","c":1,"v":12.6},{"m":"hsa-miR-25","g":"HB","c":2,"v":12.5},{"m":"hsa-miR-25","g":"HB","c":3,"v":11.5},{"m":"hsa-miR-25","g":"HB","c":4,"v":10.5},{"m":"hsa-miR-25","g":"HB","c":5,"v":11.5},{"m":"hsa-miR-25","g":"HB","c":6,"v":10.6},
{"m":"hsa-miR-25","g":"HC","c":1,"v":0},{"m":"hsa-miR-25","g":"HC","c":2,"v":11.0},{"m":"hsa-miR-25","g":"HC","c":3,"v":0},{"m":"hsa-miR-25","g":"HC","c":4,"v":0},
{"m":"hsa-miR-25","g":"PBC","c":1,"v":12.0},{"m":"hsa-miR-25","g":"PBC","c":2,"v":11.5},{"m":"hsa-miR-25","g":"PBC","c":3,"v":9.0},
{"m":"hsa-miR-25","g":"AIH","c":1,"v":0},{"m":"hsa-miR-25","g":"AIH","c":2,"v":11.0},{"m":"hsa-miR-25","g":"AIH","c":3,"v":11.0},
{"m":"hsa-miR-25","g":"NASH","c":1,"v":10.4},{"m":"hsa-miR-25","g":"NASH","c":2,"v":12.0},{"m":"hsa-miR-25","g":"NASH","c":3,"v":12.0},{"m":"hsa-miR-25","g":"NASH","c":4,"v":12.5},{"m":"hsa-miR-25","g":"NASH","c":5,"v":11.5},
{"m":"hsa-miR-25","g":"DILI","c":1,"v":12.0},{"m":"hsa-miR-25","g":"DILI","c":2,"v":11.5},{"m":"hsa-miR-25","g":"DILI","c":3,"v":13.0},{"m":"hsa-miR-25","g":"DILI","c":4,"v":12.5},{"m":"hsa-miR-25","g":"DILI","c":5,"v":11.5},{"m":"hsa-miR-25","g":"DILI","c":6,"v":11.5},{"m":"hsa-miR-25","g":"DILI","c":7,"v":12.0},
{"m":"hsa-miR-25","g":"Ctrl","c":1,"v":15.9},{"m":"hsa-miR-25","g":"Ctrl","c":2,"v":16.0},{"m":"hsa-miR-25","g":"Ctrl","c":3,"v":16.1},{"m":"hsa-miR-25","g":"Ctrl","c":4,"v":15.7},
{"m":"hsa-miR-451","g":"HB","c":1,"v":15.7},{"m":"hsa-miR-451","g":"HB","c":2,"v":16.0},{"m":"hsa-miR-451","g":"HB","c":3,"v":13.5},{"m":"hsa-miR-451","g":"HB","c":4,"v":12.0},{"m":"hsa-miR-451","g":"HB","c":5,"v":15.1},{"m":"hsa-miR-451","g":"HB","c":6,"v":13.0},
{"m":"hsa-miR-451","g":"HC","c":1,"v":11.5},{"m":"hsa-miR-451","g":"HC","c":2,"v":12.0},{"m":"hsa-miR-451","g":"HC","c":3,"v":11.0},{"m":"hsa-miR-451","g":"HC","c":4,"v":0},
{"m":"hsa-miR-451","g":"PBC","c":1,"v":16.1},{"m":"hsa-miR-451","g":"PBC","c":2,"v":13.0},{"m":"hsa-miR-451","g":"PBC","c":3,"v":11.0},
{"m":"hsa-miR-451","g":"AIH","c":1,"v":10.4},{"m":"hsa-miR-451","g":"AIH","c":2,"v":11.5},{"m":"hsa-miR-451","g":"AIH","c":3,"v":11.0},
{"m":"hsa-miR-451","g":"NASH","c":1,"v":11.0},{"m":"hsa-miR-451","g":"NASH","c":2,"v":13.9},{"m":"hsa-miR-451","g":"NASH","c":3,"v":13.8},{"m":"hsa-miR-451","g":"NASH","c":4,"v":14.1},{"m":"hsa-miR-451","g":"NASH","c":5,"v":12.5},
{"m":"hsa-miR-451","g":"DILI","c":1,"v":13.0},{"m":"hsa-miR-451","g":"DILI","c":2,"v":15.0},{"m":"hsa-miR-451","g":"DILI","c":3,"v":16.3},{"m":"hsa-miR-451","g":"DILI","c":4,"v":17.0},{"m":"hsa-miR-451","g":"DILI","c":5,"v":14.7},{"m":"hsa-miR-451","g":"DILI","c":6,"v":13.5},{"m":"hsa-miR-451","g":"DILI","c":7,"v":12.5},
{"m":"hsa-miR-451","g":"Ctrl","c":1,"v":9.2},{"m":"hsa-miR-451","g":"Ctrl","c":2,"v":12.0},{"m":"hsa-miR-451","g":"Ctrl","c":3,"v":12.0},{"m":"hsa-miR-451","g":"Ctrl","c":4,"v":12.0}
]
},
"hconcat": [
{
"data": {"name": "cells"},
"facet": {"column": {"field": "g", "type": "nominal", "sort": ["HB","HC","PBC","AIH","NASH","DILI","Ctrl"],
  "header": {"title": "Expression level (40 - Ct)", "titleFont": "Liberation Sans", "titleFontSize": 7.5, "titleFontWeight": "normal", "titleColor": "#000", "titlePadding": -6,
             "labelFont": "Liberation Sans", "labelFontSize": 7.5, "labelColor": "#000", "labelPadding": 11, "labelBaseline": "middle"}}},
"spacing": 0,
"bounds": "flush",
"resolve": {"scale": {"x": "independent"}},
"spec": {
  "width": {"step": 24.5},
  "height": 404,
  "view": {"stroke": "#000", "strokeWidth": 1.5},
  "encoding": {
    "y": {"field": "m", "type": "nominal", "sort": null, "scale": {"type": "band", "paddingInner": 0, "paddingOuter": 0},
      "axis": {"title": "miRNAs", "titleAngle": 0, "titleX": -36.5, "titleY": -19, "titleAlign": "center", "titleBaseline": "middle", "titleFontSize": 7.5, "titleFontWeight": "normal", "labelAlign": "left", "labelPadding": 67, "labelFontSize": 7.5, "ticks": false, "domain": false}}
  },
  "layer": [
    {"mark": {"type": "rect"},
     "encoding": {
       "x": {"field": "c", "type": "ordinal", "scale": {"type": "band", "paddingInner": 0, "paddingOuter": 0},
         "axis": {"orient": "top", "offset": 10.5, "title": null, "labelAngle": 0, "labelFontSize": 7, "labelBaseline": "middle", "labelPadding": 7.3, "ticks": true, "tickBand": "extent", "tickSize": -10.5, "tickColor": "#000", "domainColor": "#000"}},
       "color": {"field": "v", "type": "quantitative", "scale": {"domain": [0, 11, 22], "range": ["#00b050", "#000000", "#ff0000"], "interpolate": "rgb", "clamp": true}, "legend": null}
     }},
    {"mark": {"type": "text", "fontSize": 7, "align": "right", "dx": -2.5, "color": "#000", "opacity": 0.5},
     "encoding": {
       "x": {"field": "c", "type": "ordinal", "bandPosition": 1,
         "axis": {"orient": "top", "offset": 23.3, "title": null, "labels": false, "ticks": false, "domainColor": "#000"}},
       "text": {"condition": {"test": "datum.v == 0", "value": "0"}, "field": "v", "type": "quantitative", "format": ".1f"}
     }}
  ],
  "resolve": {"axis": {"x": "independent"}}
}
},
{
"spacing": 6,
"hconcat": [
{
  "data": {"name": "pv"},
  "width": 36,
  "height": 404,
  "mark": {"type": "text", "fontSize": 7.5, "dx": 3, "color": "#000"},
  "encoding": {
    "y": {"field": "m", "type": "nominal", "sort": null, "scale": {"type": "band", "paddingInner": 0, "paddingOuter": 0}, "axis": null},
    "x": {"datum": "p-value", "type": "nominal", "axis": {"orient": "top", "offset": 2.5, "title": null, "ticks": false, "labelPadding": 10, "labelBaseline": "middle", "labelFontSize": 7.8, "labelAngle": 0, "domainColor": "#000"}},
    "text": {"field": "p"}
  }
},
{
  "data": {"name": "cs"},
  "width": 40,
  "height": 274.3,
  "title": {"text": "Color Scale (40-Ct)", "anchor": "start", "fontSize": 9.3, "fontWeight": "normal", "color": "#000", "dx": -12, "offset": -10},
  "mark": {"type": "rect", "stroke": "#000", "strokeWidth": 0.8},
  "encoding": {
    "y": {"field": "s", "type": "ordinal", "sort": "descending", "scale": {"type": "band", "paddingInner": 0, "paddingOuter": 1.0526, "align": 1},
      "axis": {"orient": "right", "title": null, "ticks": false, "domain": false, "labelPadding": 31, "labelFontSize": 7.5, "labelAlign": "right"}},
    "color": {"field": "s", "type": "quantitative", "scale": {"domain": [0, 11, 22], "range": ["#00b050", "#000000", "#ff0000"], "interpolate": "rgb", "clamp": true}, "legend": null}
  }
}
]
}
]
}
